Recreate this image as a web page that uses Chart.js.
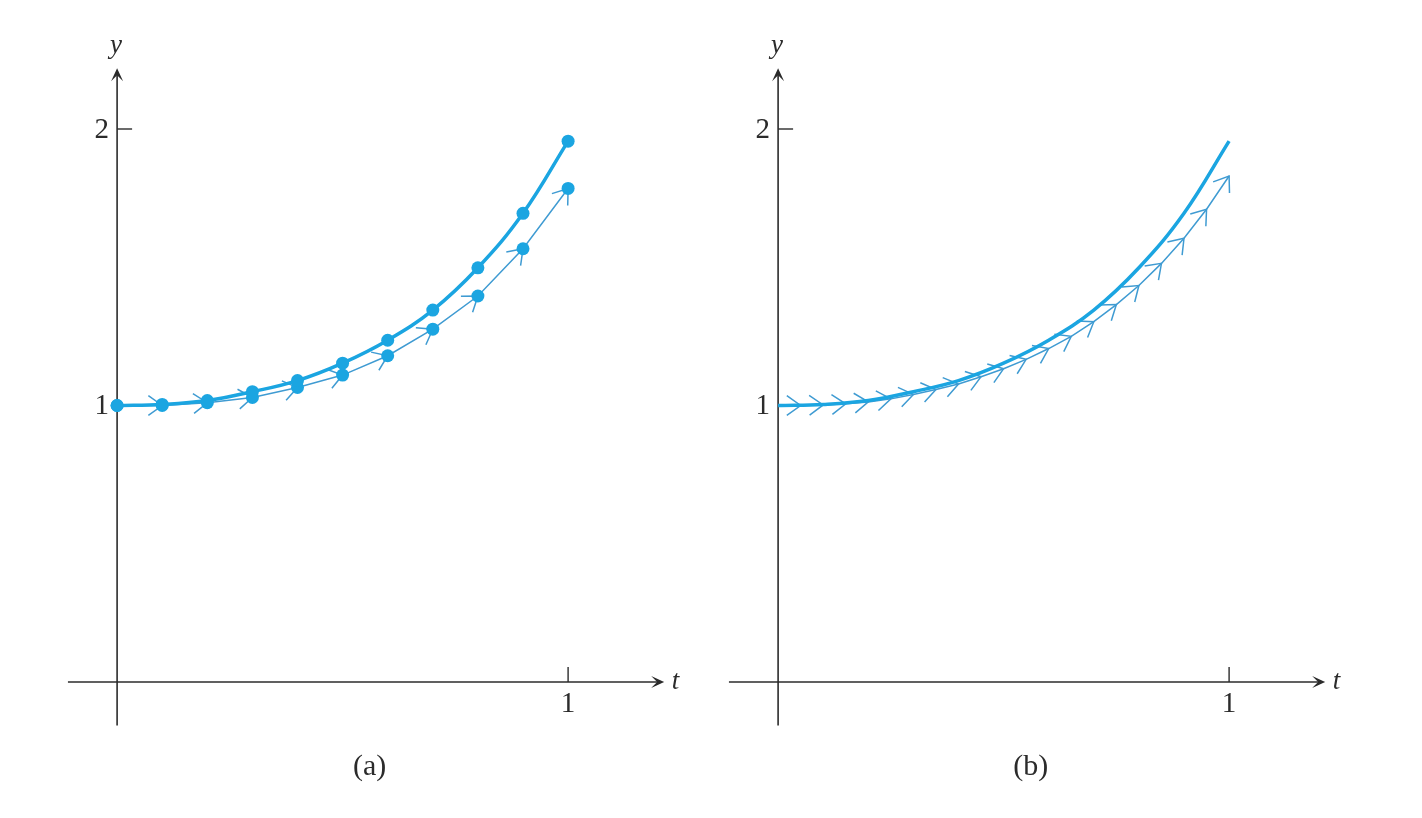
<!DOCTYPE html>
<html>
<head>
<meta charset="utf-8">
<script src="https://cdn.jsdelivr.net/npm/chart.js@4.4.0/dist/chart.umd.min.js"></script>
<style>
  html, body { margin: 0; padding: 0; background: #fff; }
  #wrap { position: relative; width: 1422px; height: 818px; overflow: hidden; }
  canvas { position: absolute; top: 0; }
</style>
</head>
<body>
<div id="wrap">
  <canvas id="chartA" width="711" height="818" style="left:0px"></canvas>
  <canvas id="chartB" width="711" height="818" style="left:661px"></canvas>
</div>
<script>
// values
var tCoarse = [0, 0.1, 0.2, 0.3, 0.4, 0.5, 0.6, 0.7, 0.8, 0.9, 1.0];
var yExact = [1, 1.004, 1.018, 1.05, 1.09, 1.153, 1.236, 1.345, 1.498, 1.695, 1.956];
var yEulerCoarse = [1, 1.0, 1.01, 1.029, 1.065, 1.11, 1.18, 1.276, 1.396, 1.567, 1.785];

var tFine = [0, 0.05, 0.1, 0.15, 0.2, 0.25, 0.3, 0.35, 0.4, 0.45, 0.5,
             0.55, 0.6, 0.65, 0.7, 0.75, 0.8, 0.85, 0.9, 0.95, 1.0];
var yEulerFine = [1, 1.0, 1.002, 1.006, 1.013, 1.024, 1.04, 1.058, 1.078, 1.104, 1.133,
                  1.167, 1.206, 1.25, 1.303, 1.365, 1.434, 1.514, 1.605, 1.71, 1.83];

var xTicks = [1];
var xTickLabels = ["1"];
var yTicks = [1, 2];
var yTickLabels = ["1", "2"];
var panelLabels = ["(a)", "(b)"];

var curveColor = "#1ba5e1";
var arrowColor = "#3f9bd2";
var axisColor = "#2b2b2b";
var serif = "'Liberation Serif', 'DejaVu Serif', serif";

function pts(xs, ys) {
    return xs.map(function (x, i) { return { x: x, y: ys[i] }; });
}

function axisHead(ctx, x, y, dir) {
    ctx.save();
    ctx.translate(x, y);
    ctx.rotate(dir);
    ctx.beginPath();
    ctx.moveTo(0, 0);
    ctx.lineTo(-13, -6);
    ctx.quadraticCurveTo(-8, -1, -7, 0);
    ctx.quadraticCurveTo(-8, 1, -13, 6);
    ctx.closePath();
    ctx.fillStyle = axisColor;
    ctx.fill();
    ctx.restore();
}

var axesPlugin = {
    id: "axes",
    beforeDatasetsDraw: function (chart, args, opts) {
        var ctx = chart.ctx;
        var xs = chart.scales.x, ys = chart.scales.y;
        var x0 = xs.getPixelForValue(0), y0 = ys.getPixelForValue(0);
        ctx.save();
        ctx.strokeStyle = axisColor;
        ctx.lineWidth = 1.6;
        // t axis
        var xl = xs.getPixelForValue(-0.109), xr = xs.getPixelForValue(1.213);
        ctx.beginPath();
        ctx.moveTo(xl, y0); ctx.lineTo(xr - 4, y0);
        ctx.stroke();
        axisHead(ctx, xr, y0, 0);
        // y axis
        var yb = ys.getPixelForValue(-0.157), yt = ys.getPixelForValue(2.22);
        ctx.beginPath();
        ctx.moveTo(x0, yb); ctx.lineTo(x0, yt + 4);
        ctx.stroke();
        axisHead(ctx, x0, yt, -Math.PI / 2);
        // ticks
        ctx.lineWidth = 1.4;
        xTicks.forEach(function (v) {
            var px = xs.getPixelForValue(v);
            ctx.beginPath(); ctx.moveTo(px, y0); ctx.lineTo(px, y0 - 15); ctx.stroke();
        });
        yTicks.forEach(function (v) {
            var py = ys.getPixelForValue(v);
            ctx.beginPath(); ctx.moveTo(x0, py); ctx.lineTo(x0 + 15, py); ctx.stroke();
        });
        // tick labels
        ctx.fillStyle = axisColor;
        ctx.font = "29px " + serif;
        ctx.textBaseline = "middle";
        ctx.textAlign = "center";
        xTicks.forEach(function (v, i) {
            ctx.fillText(xTickLabels[i], xs.getPixelForValue(v), y0 + 22);
        });
        ctx.textAlign = "right";
        yTicks.forEach(function (v, i) {
            ctx.fillText(yTickLabels[i], x0 - 8, ys.getPixelForValue(v) + 1);
        });
        // axis names
        ctx.font = "italic 27px " + serif;
        ctx.textAlign = "center";
        ctx.fillText("y", x0 - 1, ys.getPixelForValue(2.3));
        ctx.fillText("t", xs.getPixelForValue(1.238), y0);
        // panel label
        ctx.font = "30px " + serif;
        ctx.fillText(opts.label, xs.getPixelForValue(0.56), y0 + 85);
        ctx.restore();
    },
    afterDatasetDraw: function (chart, args) {
        var ds = chart.data.datasets[args.index];
        if (!ds.arrows) return;
        var ctx = chart.ctx;
        var els = args.meta.data;
        ctx.save();
        ctx.strokeStyle = arrowColor;
        ctx.lineWidth = 1.5;
        for (var i = 1; i < els.length; i++) {
            var a = els[i - 1], b = els[i];
            var ang = Math.atan2(b.y - a.y, b.x - a.x);
            var len = 17, spread = 0.62;
            ctx.beginPath();
            ctx.moveTo(b.x - len * Math.cos(ang - spread), b.y - len * Math.sin(ang - spread));
            ctx.lineTo(b.x, b.y);
            ctx.lineTo(b.x - len * Math.cos(ang + spread), b.y - len * Math.sin(ang + spread));
            ctx.stroke();
        }
        ctx.restore();
    }
};

function makeChart(id, label, eulerT, eulerY, showDots) {
    var datasets = [
        {
            data: pts(tCoarse, yExact),
            borderColor: curveColor,
            backgroundColor: curveColor,
            borderWidth: 3.5,
            pointRadius: showDots ? 6.5 : 0,
            pointBorderWidth: 0,
            tension: 0.4,
            order: 0
        },
        {
            data: pts(eulerT, eulerY),
            borderColor: arrowColor,
            borderWidth: 1.5,
            pointRadius: 0,
            arrows: true,
            order: 2
        }
    ];
    if (showDots) {
        datasets.push({
            data: pts(eulerT, eulerY),
            showLine: false,
            backgroundColor: curveColor,
            borderColor: curveColor,
            pointRadius: 6.5,
            pointBorderWidth: 0,
            order: 1
        });
    }
    return new Chart(document.getElementById(id), {
        type: "line",
        data: { datasets: datasets },
        options: {
            responsive: false,
            animation: false,
            devicePixelRatio: 1,
            layout: { padding: { left: 72, right: 52.7, top: 46.05, bottom: 80.7 } },
            scales: {
                x: { type: "linear", min: -0.1, max: 1.2, display: false },
                y: { type: "linear", min: -0.2, max: 2.3, display: false }
            },
            plugins: {
                legend: { display: false },
                tooltip: { enabled: false },
                axes: { label: label }
            }
        },
        plugins: [axesPlugin]
    });
}

makeChart("chartA", panelLabels[0], tCoarse, yEulerCoarse, true);
makeChart("chartB", panelLabels[1], tFine, yEulerFine, false);
</script>
</body>
</html>
